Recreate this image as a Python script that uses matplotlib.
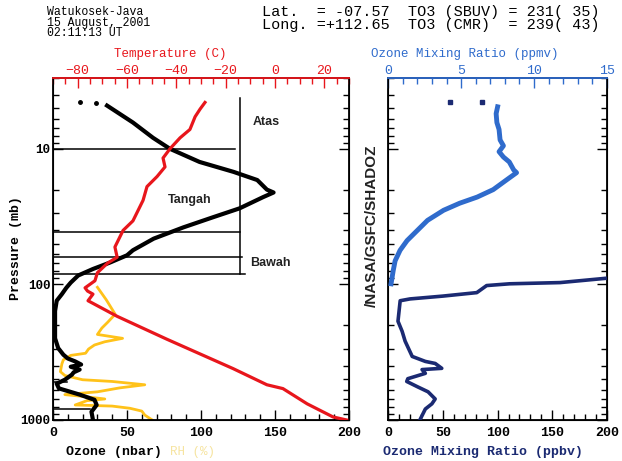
import matplotlib
matplotlib.use("Agg")
import matplotlib.pyplot as plt
from matplotlib.ticker import FixedLocator, MultipleLocator, NullFormatter, FixedFormatter, LogLocator

# ---------------- data ----------------
# Ozone partial pressure (nbar) vs pressure (hPa)
o3_p = [4.8, 6.4, 8.3, 10, 12.5, 14.8, 17, 20, 21, 22.7, 27.5, 32, 38, 46, 56, 61, 69, 77, 86,
        97, 106, 118, 132, 157, 250, 295, 330, 352, 370, 390, 405, 425, 445, 463, 505, 540,
        585, 650, 710, 775, 870, 1000]
o3_nbar = [36.5, 54, 67.6, 79, 99, 122, 138, 144.5, 149, 142, 126, 108, 88, 68, 54, 50, 38.5,
           27, 17, 12, 9, 6, 2.5, 1.4, 1.4, 3.5, 7, 10, 15, 19, 12, 18, 14, 12.8, 8, 2.5,
           4, 18, 28, 29.5, 26, 27]
o3_dot_p = [4.55, 4.6]
o3_dot_nbar = [18, 29]

# Temperature (C)
t_p = [4.55, 5.1, 5.8, 7.2, 8.3, 10, 11.7, 13.6, 16, 19, 24, 34, 40, 53, 63, 70, 82, 94, 106,
       112, 118, 132, 172, 254, 418, 550, 587, 760, 950, 1000]
t_c = [-28.4, -30.4, -32.4, -34.5, -38.5, -42.6, -45.4, -44.6, -47.8, -51.9, -53.5, -57.6,
       -61.6, -64.9, -64, -68, -72, -73, -77, -76, -73.8, -75.8, -64, -43.8, -17, -3.3, 3.2,
       13, 23.5, 29]

# Relative humidity (%), plotted on the ozone axis
rh_p = [105, 130, 166, 190, 210, 234, 250, 265, 280, 300, 322, 334, 360, 386, 440, 470, 505,
        520, 550, 580, 620, 650, 670, 700, 720, 775, 790, 820, 860, 920, 1000]
rh_pct = [30, 36, 42, 37, 33, 30, 47, 35, 28, 24, 22, 12, 7, 6, 5, 8, 20, 40, 62, 45, 30, 8,
          20, 35, 23, 15, 40, 52, 60, 62, 67]

# Ozone mixing ratio (ppmv), upper part
mr_p = [4.9, 5.5, 6.4, 7.2, 8.6, 9.5, 10.5, 11.5, 12.5, 14.3, 15, 17, 20, 22.7, 25.2, 28.4,
        33.7, 40, 47.5, 56, 67, 79, 99]
mr_ppmv = [7.5, 7.4, 7.45, 7.6, 7.67, 7.9, 7.6, 7.9, 8.3, 8.6, 8.8, 8.1, 7.2, 6.1, 4.9, 3.8,
           2.7, 2.0, 1.3, 0.82, 0.48, 0.35, 0.2]
mr_dot_p = [4.55, 4.55]
mr_dot_ppmv = [4.25, 6.4]

# Ozone mixing ratio (ppbv), lower part
mb_p = [90, 97, 99, 102, 115, 122, 128, 132, 187, 222, 262, 340, 370, 383, 416, 425, 453,
        496, 520, 570, 620, 700, 760, 830, 1000]
mb_ppbv = [200, 157, 111, 90, 81, 50, 20, 11, 9, 12.8, 15.5, 22, 34, 43, 49, 31, 34, 18, 17,
           27, 36.5, 43, 40, 34, 29]

# Layer boundaries (pressure, extent in nbar)
layer_p = [10, 41, 63, 84]
layer_x = [123, 126, 128, 130]
low_p = [521, 828]
low_x = [9.5, 25]
vline_x = 126
vline_p = [4.2, 84]
layer_names = ["Atas", "Tangah", "Bawah"]
layer_label_x = [144, 92, 147]
layer_label_p = [6.3, 24, 70]

temp_ticks = [-80, -60, -40, -20, 0, 20]
o3_ticks = [0, 50, 100, 150, 200]
ppmv_ticks = [0, 5, 10, 15]
p_ticks = [10, 100, 1000]

RED = "#e8161c"
YEL = "#ffc21a"
BLUE = "#2f6bcc"
NAVY = "#1b2a72"
MONO = ["Liberation Mono", "DejaVu Sans Mono"]

fig = plt.figure(figsize=(6.22, 4.61), dpi=100)

def style_log_y(ax, labels):
    ax.set_yscale("log")
    ax.set_ylim(1000, 3)
    ax.yaxis.set_major_locator(FixedLocator(p_ticks))
    ax.yaxis.set_minor_locator(LogLocator(base=10, subs=range(2, 10), numticks=20))
    ax.yaxis.set_minor_formatter(NullFormatter())
    if labels:
        ax.yaxis.set_major_formatter(FixedFormatter([str(v) for v in p_ticks]))
    else:
        ax.yaxis.set_major_formatter(NullFormatter())
    ax.tick_params(axis="y", which="both", direction="in", left=True, right=True, pad=2)
    ax.tick_params(axis="y", which="major", length=7, width=1)
    ax.tick_params(axis="y", which="minor", length=4, width=1)

# ---------------- left panel ----------------
axL = fig.add_axes([0.0852, 0.089, 0.476, 0.742])
style_log_y(axL, True)
axL.set_xlim(0, 200)
axL.xaxis.set_major_locator(FixedLocator(o3_ticks))
axL.xaxis.set_minor_locator(MultipleLocator(10))
axL.tick_params(axis="x", which="both", direction="in", top=False, pad=5)
axL.tick_params(axis="x", which="major", length=7, width=1)
axL.tick_params(axis="x", which="minor", length=4, width=1)
for lab in axL.get_xticklabels() + axL.get_yticklabels():
    lab.set_family(MONO)
    lab.set_fontweight("bold")
    lab.set_fontsize(9.5)
for lab in axL.get_yticklabels():
    lab.set_fontsize(9)
for s in axL.spines.values():
    s.set_linewidth(1.3)

axL.plot(rh_pct, rh_p, color=YEL, lw=2.0, zorder=2)
axL.plot(o3_nbar, o3_p, color="black", lw=3.0, zorder=3)
axL.plot(o3_dot_nbar, o3_dot_p, ls="none", marker="o", ms=2.5, color="black")
for p, xe in zip(layer_p, layer_x):
    axL.plot([0, xe], [p, p], color="black", lw=1.1, zorder=4)
for p, xe in zip(low_p, low_x):
    axL.plot([0, xe], [p, p], color="black", lw=1.1, zorder=4)
axL.plot([vline_x, vline_x], vline_p, color="black", lw=1.1, zorder=4)
for name, x, p in zip(layer_names, layer_label_x, layer_label_p):
    axL.text(x, p, name, ha="center", va="center", fontsize=9, fontweight="bold",
             family=["Liberation Sans", "DejaVu Sans"], color="#222222")

axT = axL.twiny()
axT.set_xlim(-90, 30)
axT.set_ylim(1000, 3)
axT.xaxis.set_major_locator(FixedLocator(temp_ticks))
axT.xaxis.set_minor_locator(MultipleLocator(5))
axT.tick_params(axis="x", which="both", direction="in", colors=RED, pad=1)
axT.tick_params(axis="x", which="major", length=7, width=1)
axT.tick_params(axis="x", which="minor", length=4, width=1)
for lab in axT.get_xticklabels():
    lab.set_family(MONO)
    lab.set_fontsize(9.5)
    lab.set_color(RED)
axT.spines["top"].set_color(RED)
axT.spines["top"].set_linewidth(1.3)
axT.plot(t_c, t_p, color=RED, lw=2.3, zorder=5)

# ---------------- right panel ----------------
axR = fig.add_axes([0.624, 0.089, 0.352, 0.742])
style_log_y(axR, False)
axR.set_xlim(0, 200)
axR.xaxis.set_major_locator(FixedLocator(o3_ticks))
axR.xaxis.set_minor_locator(MultipleLocator(10))
axR.tick_params(axis="x", which="both", direction="in", top=False, pad=5)
axR.tick_params(axis="x", which="major", length=7, width=1)
axR.tick_params(axis="x", which="minor", length=4, width=1)
for lab in axR.get_xticklabels():
    lab.set_family(MONO)
    lab.set_fontweight("bold")
    lab.set_fontsize(9.5)
for s in axR.spines.values():
    s.set_linewidth(1.3)
axR.plot(mb_ppbv, mb_p, color=NAVY, lw=2.6, zorder=3, clip_on=True)

axR2 = axR.twiny()
axR2.set_xlim(0, 15)
axR2.set_ylim(1000, 3)
axR2.xaxis.set_major_locator(FixedLocator(ppmv_ticks))
axR2.xaxis.set_minor_locator(MultipleLocator(1))
axR2.tick_params(axis="x", which="both", direction="in", colors=BLUE, pad=1)
axR2.tick_params(axis="x", which="major", length=7, width=1)
axR2.tick_params(axis="x", which="minor", length=4, width=1)
for lab in axR2.get_xticklabels():
    lab.set_family(MONO)
    lab.set_fontsize(9.5)
    lab.set_color(BLUE)
axR2.spines["top"].set_color(BLUE)
axR2.spines["top"].set_linewidth(1.3)
axR2.plot(mr_ppmv, mr_p, color=BLUE, lw=3.5, zorder=3)
axR2.plot(mr_dot_ppmv, mr_dot_p, ls="none", marker="s", ms=2.5, color=NAVY)

# ---------------- texts ----------------
fig.text(0.0756, 1 - 6 / 461, "Watukosek-Java\n15 August, 2001\n02:11:13 UT", ha="left",
         va="top", family=MONO, fontsize=8.3, linespacing=0.85)
fig.text(0.421, 1 - 5 / 461,
         "Lat.  = -07.57  TO3 (SBUV) = 231( 35)\nLong. =+112.65  TO3 (CMR)  = 239( 43)",
         ha="left", va="top", family=MONO, fontsize=10.9, linespacing=0.95)
fig.text(170 / 622, 1 - 54 / 461, "Temperature (C)", color=RED, ha="center", va="center",
         family=MONO, fontsize=9)
fig.text(465 / 622, 1 - 54 / 461, "Ozone Mixing Ratio (ppmv)", color=BLUE, ha="center",
         va="center", family=MONO, fontsize=9)
fig.text(114 / 622, 1 - 452 / 461, "Ozone (nbar)", ha="center", va="center", family=MONO,
         fontsize=9.5, fontweight="bold")
fig.text(192 / 622, 1 - 452 / 461, "RH (%)", ha="center", va="center", family=MONO,
         fontsize=9, color="#f6e4a0")
fig.text(483 / 622, 1 - 452 / 461, "Ozone Mixing Ratio (ppbv)", ha="center", va="center",
         family=MONO, fontsize=9.5, fontweight="bold", color=NAVY)
fig.text(16 / 622, 1 - 248 / 461, "Pressure (mb)", rotation=90, ha="center", va="center",
         family=MONO, fontsize=9.5, fontweight="bold")
fig.text(372 / 622, 1 - 226 / 461, "/NASA/GSFC/SHADOZ", rotation=90, ha="center",
         va="center", family=["Liberation Sans", "DejaVu Sans"], fontsize=11,
         fontweight="bold", color="#222222")

fig.savefig("out.png", dpi=100)
